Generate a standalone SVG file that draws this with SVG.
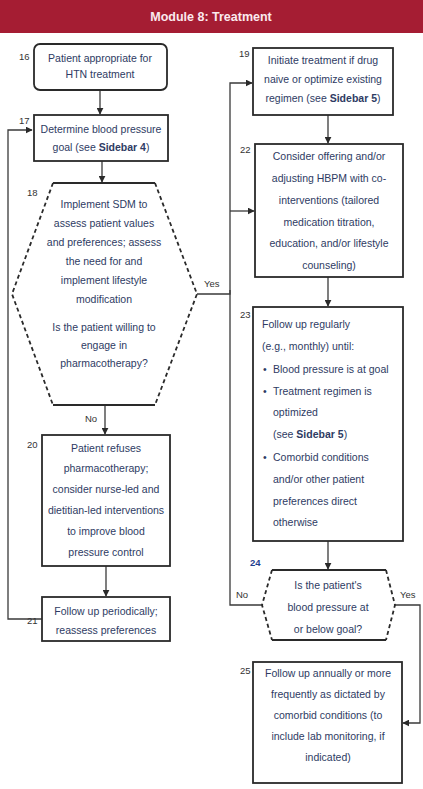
<svg xmlns="http://www.w3.org/2000/svg" width="423" height="789" viewBox="0 0 423 789">
<defs>
<style>
.box{fill:#fff;stroke:#2a2a2a;stroke-width:1.8}
.solid{fill:none;stroke:#2a2a2a;stroke-width:1.8}
.dash{fill:none;stroke:#2a2a2a;stroke-width:1.8;stroke-dasharray:4,3}
.ln{fill:none;stroke:#3a3a3a;stroke-width:1.3}
.t{font-family:"Liberation Sans",Arial,sans-serif;font-size:10.5px;fill:#2e3b63}
.c{text-anchor:middle}
.n{font-family:"Liberation Sans",Arial,sans-serif;font-size:9.5px;fill:#333}
.b{font-weight:bold}
</style>
<marker id="ah" viewBox="0 0 10 10" refX="9" refY="5" markerWidth="7" markerHeight="7" orient="auto" markerUnits="userSpaceOnUse">
<path d="M0,0 L10,5 L0,10 z" fill="#2a2a2a"/>
</marker>
</defs>
<rect x="0" y="0" width="423" height="33" fill="#a51d33"/>
<text x="211" y="21" text-anchor="middle" font-family="Liberation Sans,Arial,sans-serif" font-size="12.5" font-weight="bold" fill="#fbe9ee">Module 8: Treatment</text>

<g id="connectors">
<line class="ln" x1="100" y1="90" x2="100" y2="114" marker-end="url(#ah)"/>
<line class="ln" x1="102" y1="161" x2="102" y2="182" marker-end="url(#ah)"/>
<line class="ln" x1="105" y1="405" x2="105" y2="434" marker-end="url(#ah)"/>
<text class="n" x="85" y="422">No</text>
<line class="ln" x1="106" y1="566" x2="106" y2="596" marker-end="url(#ah)"/>
<polyline class="ln" points="42,619 8,619 8,130 32,130" marker-end="url(#ah)"/>
<polyline class="ln" points="197,294 230,294 230,83 252,83" marker-end="url(#ah)"/>
<polyline class="ln" points="230,211 254,211" marker-end="url(#ah)"/>
<polyline class="ln" points="262,605 230,605 230,290"/>
<text class="n" x="204" y="287">Yes</text>
<text class="n" x="236" y="598">No</text>
<line class="ln" x1="328" y1="115" x2="328" y2="143" marker-end="url(#ah)"/>
<line class="ln" x1="328" y1="277" x2="328" y2="306" marker-end="url(#ah)"/>
<line class="ln" x1="328" y1="541" x2="328" y2="569" marker-end="url(#ah)"/>
<polyline class="ln" points="395,605 420,605 420,723 403,723" marker-end="url(#ah)"/>
<text class="n" x="400" y="598">Yes</text>
</g>

<g id="node16">
<rect class="box" x="34" y="44" width="133" height="46" rx="6"/>
<text class="n" x="19" y="60">16</text>
<text class="t c" x="100" y="62">Patient appropriate for</text>
<text class="t c" x="100" y="78">HTN treatment</text>
</g>

<g id="node17">
<rect class="box" x="34" y="115" width="134" height="46"/>
<text class="n" x="19" y="124">17</text>
<text class="t c" x="101" y="133">Determine blood pressure</text>
<text class="t c" x="101" y="151">goal (see <tspan class="b">Sidebar 4</tspan>)</text>
</g>

<g id="node18">
<path class="solid" d="M53,183 H155 M53,405 H155"/>
<path class="dash" d="M53,183 L12,294 L53,405 M155,183 L197,294 L155,405"/>
<text class="n" x="27" y="196">18</text>
<text class="t c" x="104" y="208">Implement SDM to</text>
<text class="t c" x="104" y="227">assess patient values</text>
<text class="t c" x="104" y="246">and preferences; assess</text>
<text class="t c" x="104" y="265">the need for and</text>
<text class="t c" x="104" y="284">implement lifestyle</text>
<text class="t c" x="104" y="303">modification</text>
<text class="t c" x="104" y="331">Is the patient willing to</text>
<text class="t c" x="104" y="349">engage in</text>
<text class="t c" x="104" y="367">pharmacotherapy?</text>
</g>

<g id="node20">
<rect class="box" x="42" y="435" width="128" height="131"/>
<text class="n" x="27" y="448">20</text>
<text class="t c" x="106" y="452">Patient refuses</text>
<text class="t c" x="106" y="472">pharmacotherapy;</text>
<text class="t c" x="106" y="493">consider nurse-led and</text>
<text class="t c" x="106" y="514">dietitian-led interventions</text>
<text class="t c" x="106" y="535">to improve blood</text>
<text class="t c" x="106" y="556">pressure control</text>
</g>

<g id="node21">
<rect class="box" x="42" y="597" width="128" height="44"/>
<text class="n" x="27" y="624">21</text>
<text class="t c" x="106" y="615">Follow up periodically;</text>
<text class="t c" x="106" y="634">reassess preferences</text>
</g>

<g id="node19">
<rect class="box" x="253" y="48" width="140" height="67"/>
<text class="n" x="239" y="57">19</text>
<text class="t c" x="323" y="64">Initiate treatment if drug</text>
<text class="t c" x="323" y="83">naive or optimize existing</text>
<text class="t c" x="323" y="102">regimen (see <tspan class="b">Sidebar 5</tspan>)</text>
</g>

<g id="node22">
<rect class="box" x="255" y="144" width="148" height="133"/>
<text class="n" x="240" y="153">22</text>
<text class="t c" x="329" y="160">Consider offering and/or</text>
<text class="t c" x="329" y="182">adjusting HBPM with co-</text>
<text class="t c" x="329" y="204">interventions (tailored</text>
<text class="t c" x="329" y="226">medication titration,</text>
<text class="t c" x="329" y="247">education, and/or lifestyle</text>
<text class="t c" x="329" y="269">counseling)</text>
</g>

<g id="node23">
<rect class="box" x="253" y="307" width="150" height="234"/>
<text class="n" x="240" y="318">23</text>
<text class="t" x="262" y="328">Follow up regularly</text>
<text class="t" x="262" y="350">(e.g., monthly) until:</text>
<text class="t" x="263" y="373">•</text><text class="t" x="273" y="373">Blood pressure is at goal</text>
<text class="t" x="263" y="395">•</text><text class="t" x="273" y="395">Treatment regimen is</text>
<text class="t" x="273" y="416">optimized</text>
<text class="t" x="273" y="438">(see <tspan class="b">Sidebar 5</tspan>)</text>
<text class="t" x="263" y="461">•</text><text class="t" x="273" y="461">Comorbid conditions</text>
<text class="t" x="273" y="483">and/or other patient</text>
<text class="t" x="273" y="505">preferences direct</text>
<text class="t" x="273" y="526">otherwise</text>
</g>

<g id="node24">
<path class="solid" d="M272,570 H386 M272,640 H386"/>
<path class="dash" d="M272,570 L262,605 L272,640 M386,570 L395,605 L386,640"/>
<text class="n b" x="250" y="566" fill="#1f3f8f" style="fill:#1f3f8f">24</text>
<text class="t c" x="328" y="589">Is the patient's</text>
<text class="t c" x="328" y="611">blood pressure at</text>
<text class="t c" x="328" y="633">or below goal?</text>
</g>

<g id="node25">
<rect class="box" x="253" y="662" width="149" height="121"/>
<text class="n" x="240" y="674">25</text>
<text class="t c" x="328" y="677">Follow up annually or more</text>
<text class="t c" x="328" y="698">frequently as dictated by</text>
<text class="t c" x="328" y="719">comorbid conditions (to</text>
<text class="t c" x="328" y="740">include lab monitoring, if</text>
<text class="t c" x="328" y="761">indicated)</text>
</g>
</svg>
